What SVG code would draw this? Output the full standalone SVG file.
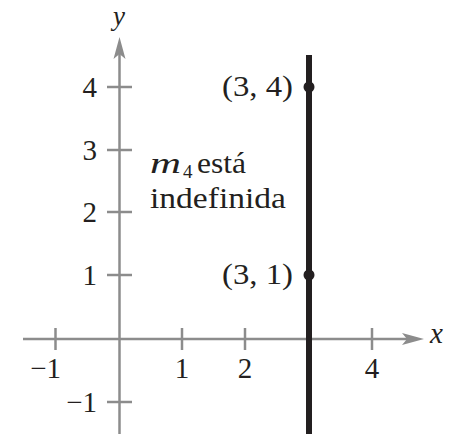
<svg xmlns="http://www.w3.org/2000/svg" width="451" height="434" viewBox="0 0 451 434">
<style>
.ax{stroke:#8c8c8c;stroke-width:2.5;fill:none}
.ah{fill:#8c8c8c}
.t{font-family:"Liberation Serif","Times New Roman",serif;font-size:29px;fill:#231f20}
.it{font-style:italic}
.ln{stroke:#231f20;stroke-width:6}
.pt{fill:#231f20}
</style>
<rect width="451" height="434" fill="#ffffff"/>
<g id="axes">
<line class="ax" x1="23" y1="339" x2="410" y2="339"/>
<polygon class="ah" points="424,339 402,333 407,339 402,345"/>
<line class="ax" x1="119.5" y1="434" x2="119.5" y2="52"/>
<polygon class="ah" points="119.5,37 113.5,59 119.5,54 125.5,59"/>
<g id="xticks">
<line class="ax" x1="55.5" y1="328" x2="55.5" y2="350"/>
<line class="ax" x1="182" y1="328" x2="182" y2="350"/>
<line class="ax" x1="245" y1="328" x2="245" y2="350"/>
<line class="ax" x1="372" y1="328" x2="372" y2="350"/>
</g>
<g id="yticks">
<line class="ax" x1="107" y1="87" x2="132" y2="87"/>
<line class="ax" x1="107" y1="150" x2="132" y2="150"/>
<line class="ax" x1="107" y1="212" x2="132" y2="212"/>
<line class="ax" x1="107" y1="275" x2="132" y2="275"/>
<line class="ax" x1="107" y1="402" x2="132" y2="402"/>
</g>
<text class="t it" x="430" y="343">x</text>
<text class="t it" x="119" y="25" text-anchor="middle" style="font-size:27px">y</text>
<text class="t" x="61" y="378" text-anchor="end">−1</text>
<text class="t" x="182" y="378" text-anchor="middle">1</text>
<text class="t" x="245" y="378" text-anchor="middle">2</text>
<text class="t" x="372" y="378" text-anchor="middle">4</text>
<text class="t" x="97" y="96.5" text-anchor="end">4</text>
<text class="t" x="97" y="159.5" text-anchor="end">3</text>
<text class="t" x="97" y="221.5" text-anchor="end">2</text>
<text class="t" x="97" y="284.5" text-anchor="end">1</text>
<text class="t" x="97" y="411.5" text-anchor="end">−1</text>
</g>
<g id="line-x3">
<line class="ln" x1="309" y1="55" x2="309" y2="434"/>
</g>
<g id="point-3-4">
<circle class="pt" cx="309" cy="87" r="5.5"/>
<text class="t" x="222" y="96" textLength="71" lengthAdjust="spacingAndGlyphs">(3, 4)</text>
</g>
<g id="point-3-1">
<circle class="pt" cx="309" cy="275" r="5.5"/>
<text class="t" x="222" y="284" textLength="71" lengthAdjust="spacingAndGlyphs">(3, 1)</text>
</g>
<g id="label">
<text class="t it" x="150" y="173" style="font-size:30px" textLength="31" lengthAdjust="spacingAndGlyphs">m</text>
<text class="t" x="183" y="178" style="font-size:19px">4</text>
<text class="t" x="197" y="173" textLength="49" lengthAdjust="spacingAndGlyphs">está</text>
<text class="t" x="150" y="208" textLength="136" lengthAdjust="spacingAndGlyphs">indefinida</text>
</g>
</svg>
